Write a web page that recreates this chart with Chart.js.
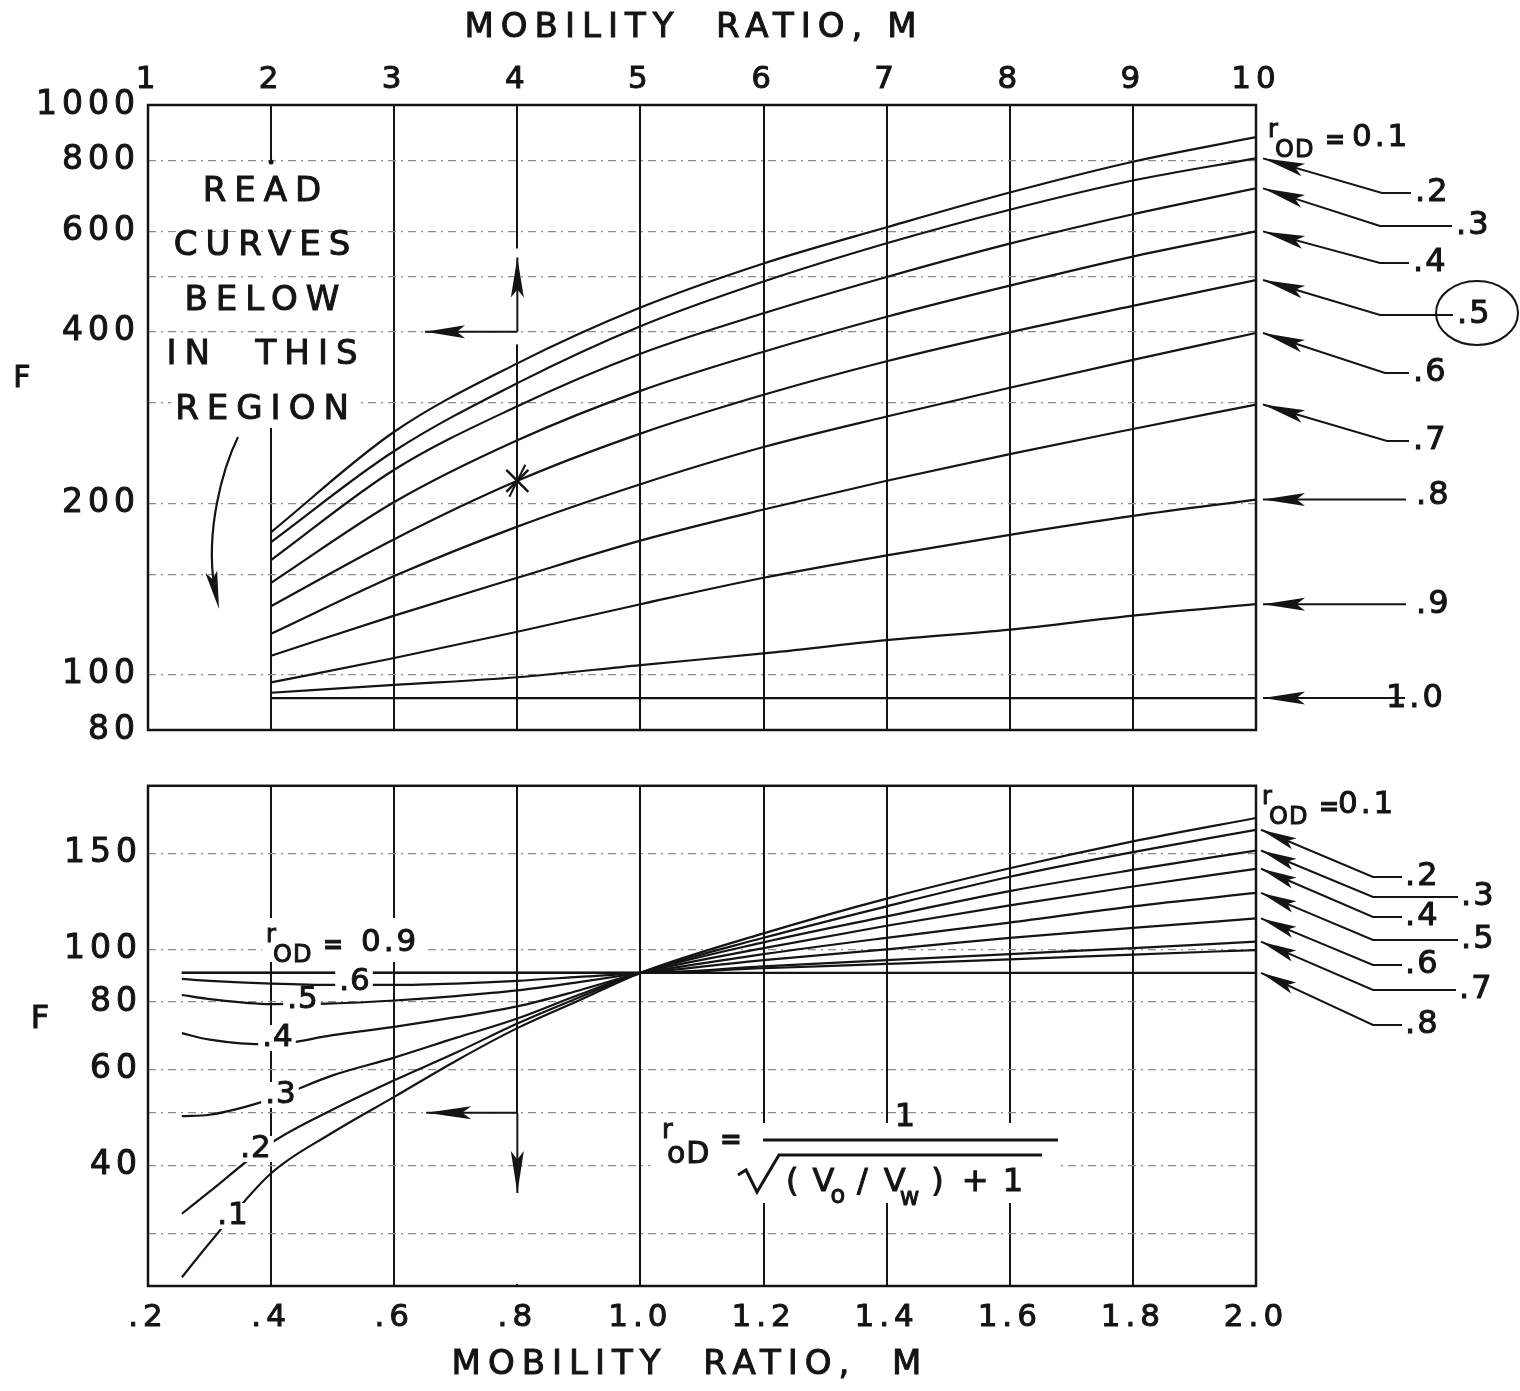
<!DOCTYPE html>
<html lang="en">
<head>
<meta charset="UTF-8">
<title>F versus mobility ratio</title>
<script src="https://cdn.jsdelivr.net/npm/chart.js"></script>
<style>
  body { margin: 0; background: #fff; }
  canvas { position: absolute; left: 0; }
  #upper { top: 0; }
  #lower { top: 760px; }
</style>
</head>
<body>
<canvas id="upper" width="1520" height="760"></canvas>
<canvas id="lower" width="1520" height="631"></canvas>
<script>
// r_OD of each curve
const rodValues = ['0.1', '0.2', '0.3', '0.4', '0.5', '0.6', '0.7', '0.8', '0.9', '1.0'];

// upper panel: mobility ratio 2..10, F
const upperM = [2, 3, 4, 5, 6, 7, 8, 9, 10];
const upper01 = [178, 267, 352, 441, 527, 610, 702, 795, 878];
const upper02 = [171, 247, 325, 409, 490, 572, 655, 737, 806];
const upper03 = [159, 229, 296, 366, 431, 499, 571, 643, 714];
const upper04 = [145, 201, 258, 315, 369, 425, 482, 542, 600];
const upper05 = [132, 173, 219, 265, 310, 355, 399, 444, 493];
const upper06 = [118, 149, 182, 216, 251, 284, 319, 357, 398];
const upper07 = [108, 127, 148, 172, 195, 219, 244, 270, 298];
const upper08 = [97, 107, 119, 133, 148, 162, 176, 190, 203];
const upper09 = [93, 96, 99, 104, 109, 115, 120, 127, 133];
const upper10 = [91, 91, 91, 91, 91, 91, 91, 91, 91];
const upperYTicks = [80, 100, 150, 200, 300, 400, 500, 600, 800, 1000];
const upperYLabels = [80, 100, 200, 400, 600, 800, 1000];

// lower panel: mobility ratio 0.25..2.0
const lowerM = [0.255, 0.3, 0.4, 0.5, 0.6, 0.7, 0.8, 0.9, 1.0, 1.2, 1.4, 1.6, 1.8, 2.0];
const lower01 = [24.9, 28.8, 38.7, 46, 53.5, 62.3, 71.6, 80.5, 90.5, 107, 124, 141, 158, 174.5];
const lower02 = [32.6, 35.8, 44, 50.7, 57.4, 64.5, 73, 81.5, 90.5, 105, 120, 136, 151, 166];
const lower03 = [49.3, 49.6, 53, 58.6, 63.2, 68.7, 74.6, 82.5, 90.5, 103, 115, 128, 140, 152];
const lower04 = [70.1, 68.2, 66.8, 69.5, 72, 75, 78.5, 84, 90.5, 100.5, 110.5, 120.5, 130.5, 140.7];
const lower05 = [82.4, 81, 79.3, 79.5, 80.5, 82, 84, 87, 90.5, 98, 105, 112, 120, 127];
const lower06 = [88.2, 87.5, 86.5, 86, 86, 86.5, 87.5, 89, 90.5, 95.5, 100, 105, 109.5, 114];
const lower07 = [90.5, 90.5, 90.5, 90.5, 90.5, 90.5, 90.5, 90.5, 90.5, 93, 95.5, 98, 100.5, 103.3];
const lower08 = [90.5, 90.5, 90.5, 90.5, 90.5, 90.5, 90.5, 90.5, 90.5, 92.3, 94, 95.8, 97.8, 99.7];
const lower09 = [90.5, 90.5, 90.5, 90.5, 90.5, 90.5, 90.5, 90.5, 90.5, 90.5, 90.5, 90.5, 90.5, 90.5];
const lowerXTicks = [0.2, 0.4, 0.6, 0.8, 1.0, 1.2, 1.4, 1.6, 1.8, 2.0];
const lowerXLabels = ['.2', '.4', '.6', '.8', '1.0', '1.2', '1.4', '1.6', '1.8', '2.0'];
const lowerYTicks = [30, 40, 50, 60, 80, 100, 150];
const lowerYLabels = [40, 60, 80, 100, 150];

const upperSeries = [upper01, upper02, upper03, upper04, upper05, upper06, upper07, upper08, upper09, upper10];
const lowerSeries = [lower01, lower02, lower03, lower04, lower05, lower06, lower07, lower08, lower09];

const INK = '#141414';
const FONT = '"DejaVu Sans", sans-serif';
Chart.defaults.font.family = FONT;
Chart.defaults.color = INK;

// ---- drawing helpers ----
function say(ctx, s, x, y, size, o = {}) {
  ctx.save();
  ctx.font = (o.weight || 'normal') + ' ' + size + 'px ' + FONT;
  ctx.letterSpacing = (o.sp == null ? 3 : o.sp) + 'px';
  ctx.textAlign = o.align || 'left';
  ctx.textBaseline = 'middle';
  if (o.bg) {
    const w = ctx.measureText(s).width;
    const x0 = o.align === 'center' ? x - w / 2 : o.align === 'right' ? x - w : x;
    ctx.fillStyle = '#fff';
    ctx.fillRect(x0 - 4, y - size * 0.42, w + 6, size * 0.84);
  }
  ctx.fillStyle = INK;
  ctx.fillText(s, x, y);
  // heavier pen, like the hand lettering
  ctx.strokeStyle = INK;
  ctx.lineWidth = o.pen == null ? 1 : o.pen;
  if (ctx.lineWidth > 0) ctx.strokeText(s, x, y);
  ctx.restore();
}

function poly(ctx, pts, width) {
  ctx.save();
  ctx.strokeStyle = INK;
  ctx.lineWidth = width || 2;
  ctx.beginPath();
  ctx.moveTo(pts[0][0], pts[0][1]);
  for (let i = 1; i < pts.length; i++) ctx.lineTo(pts[i][0], pts[i][1]);
  ctx.stroke();
  ctx.restore();
}

function head(ctx, x, y, ang, len, w) {
  ctx.save();
  ctx.fillStyle = INK;
  ctx.translate(x, y);
  ctx.rotate(ang);
  ctx.beginPath();
  ctx.moveTo(0, 0);
  ctx.lineTo(-len, -w / 2);
  ctx.lineTo(-len * 0.8, 0);
  ctx.lineTo(-len, w / 2);
  ctx.closePath();
  ctx.fill();
  ctx.restore();
}

// polyline whose last point is the arrow tip
function arrow(ctx, pts, len, w) {
  poly(ctx, pts, 2);
  const [tx, ty] = pts[pts.length - 1];
  const [px, py] = pts[pts.length - 2];
  head(ctx, tx, ty, Math.atan2(ty - py, tx - px), len, w);
}

function blank(ctx, x, y, w, h) {
  ctx.save();
  ctx.fillStyle = '#fff';
  ctx.fillRect(x, y, w, h);
  ctx.restore();
}

// "r" with subscript "OD", a bar and a value
function rod(ctx, x, y, value, vx) {
  say(ctx, 'r', x, y - 7, 24, { sp: 0 });
  say(ctx, 'OD', x + 7, y + 13, 24, { sp: 1 });
  say(ctx, '=', x + 57, y + 4, 24, { sp: 0, weight: 'bold' });
  say(ctx, value, x + vx, y, 31, { sp: 3 });
}

function frame(chart) {
  const a = chart.chartArea, ctx = chart.ctx;
  ctx.save();
  ctx.strokeStyle = INK;
  ctx.lineWidth = 2.5;
  ctx.strokeRect(a.left, a.top, a.right - a.left, a.bottom - a.top);
  ctx.restore();
}

function spacing(px) {
  const set = chart => { chart.ctx.letterSpacing = px + 'px'; };
  return { id: 'spacing', beforeLayout: set, beforeDraw: set };
}

function curves(xs, series) {
  return series.map((ys, i) => ({
    label: 'r_OD = ' + rodValues[i],
    data: xs.map((x, j) => ({ x: x, y: ys[j] })),
    borderColor: INK,
    borderWidth: 2.2,
    pointRadius: 0,
    fill: false,
    cubicInterpolationMode: 'monotone'
  }));
}

// ---- upper panel annotations ----
const upperDecor = {
  id: 'upperDecor',
  beforeDatasetsDraw(chart) {
    const ctx = chart.ctx, X = v => chart.scales.x.getPixelForValue(v), Y = v => chart.scales.y.getPixelForValue(v);
    // gaps in the M = 2 and M = 4 grid lines
    blank(ctx, X(2) - 3, 163, 6, 265);
    blank(ctx, X(4) - 3, Y(560), 6, Y(380) - Y(560));
    ['READ', 'CURVES', 'BELOW', 'IN  THIS', 'REGION'].forEach((s, i) =>
      say(ctx, s, 266, 192 + i * 54.5, 34, { align: 'center', sp: 8, bg: true }));
  },
  afterDatasetsDraw(chart) {
    const ctx = chart.ctx, a = chart.chartArea;
    const X = v => chart.scales.x.getPixelForValue(v), Y = v => chart.scales.y.getPixelForValue(v);
    frame(chart);
    ctx.save();
    ctx.fillStyle = INK;
    ctx.beginPath(); ctx.arc(X(2), 162, 2.5, 0, Math.PI * 2); ctx.fill();
    ctx.restore();

    // curved pointer towards the lower panel
    ctx.save();
    ctx.strokeStyle = INK; ctx.lineWidth = 2.2;
    ctx.beginPath(); ctx.moveTo(238, 437); ctx.bezierCurveTo(222, 470, 206, 530, 214, 585); ctx.stroke();
    ctx.restore();
    head(ctx, 219, 609, Math.atan2(24, 5), 38, 12);

    // worked example at M = 4
    const sx = X(4), sy = Y(219);
    poly(ctx, [[sx - 11, sy - 11], [sx + 11, sy + 11]], 2.5);
    poly(ctx, [[sx - 11, sy + 11], [sx + 11, sy - 11]], 2.5);
    poly(ctx, [[sx - 8, sy + 16], [sx + 8, sy - 16]], 2);
    arrow(ctx, [[X(4), Y(400)], [X(4), Y(540)]], 40, 13);
    arrow(ctx, [[X(4), Y(400)], [X(3.25), Y(400)]], 40, 13);

    // curve tags on the right
    const tip = i => [a.right + 7, Y(upperSeries[i][upperSeries[i].length - 1])];
    rod(ctx, 1268, 138, '0.1', 84);
    const tags = [
      ['.2', 1415, 193, 1382], ['.3', 1456, 226, 1380], ['.4', 1413, 263, 1380],
      ['.5', 1457, 315, 1380], ['.6', 1413, 373, 1385], ['.7', 1413, 441, 1387]
    ];
    tags.forEach(([s, tx, ty, ex], k) => {
      arrow(ctx, [[tx - 4, ty], [ex, ty], tip(k + 1)], 42, 13);
      say(ctx, s, tx, ty, 32, { sp: 2 });
    });
    [['.8', 1416, 496, 7], ['.9', 1416, 605, 8]].forEach(([s, tx, ty, i]) => {
      const t = tip(i);
      arrow(ctx, [[tx - 10, t[1]], t], 42, 13);
      say(ctx, s, tx, ty, 32, { sp: 2 });
    });
    const t10 = tip(9);
    arrow(ctx, [[1405, t10[1]], t10], 42, 13);
    say(ctx, '1.0', 1386, 699, 32, { sp: 3 });
    ctx.save();
    ctx.strokeStyle = INK; ctx.lineWidth = 2;
    ctx.beginPath(); ctx.ellipse(1477, 313, 41, 32, 0, 0, Math.PI * 2); ctx.stroke();
    ctx.restore();
  },
  afterDraw(chart) {
    const ctx = chart.ctx;
    say(ctx, 'MOBILITY  RATIO, M', 694, 28, 34, { align: 'center', sp: 7 });
    say(ctx, 'F', 22, 379, 30, { align: 'center', sp: 0 });
  }
};

// ---- lower panel annotations (page coordinates, canvas starts at 760) ----
const OFF = 760;
const lowerDecor = {
  id: 'lowerDecor',
  beforeDatasetsDraw(chart) {
    const ctx = chart.ctx, a = chart.chartArea;
    const X = v => chart.scales.x.getPixelForValue(v), Y = v => chart.scales.y.getPixelForValue(v) + OFF;
    ctx.save();
    ctx.translate(0, -OFF);
    blank(ctx, X(0.8) - 3, Y(50), 6, a.bottom + OFF - Y(50) - 2);
    blank(ctx, 650, 1123, 410, 80);
    // r_oD = 1 / sqrt((Vo/Vw) + 1)
    say(ctx, 'r', 662, 1131, 26, { sp: 0 });
    say(ctx, 'oD', 667, 1155, 30, { sp: 1 });
    say(ctx, '=', 720, 1141, 26, { sp: 0, weight: 'bold' });
    say(ctx, '1', 905, 1118, 32, { align: 'center', sp: 0 });
    poly(ctx, [[763, 1140], [1058, 1140]], 3);
    poly(ctx, [[738, 1175], [746, 1170], [757, 1192], [779, 1155], [1042, 1155]], 3);
    const parts = [['(', 32, 0, 14], ['V', 32, 0, -4], ['o', 24, 14, 12], ['/', 32, 0, 16],
                   ['V', 32, 0, -6], ['w', 24, 16, 12], [')', 32, 0, 18], ['+', 32, 0, 14], ['1', 32, 0, 0]];
    let x = 786;
    parts.forEach(([s, size, dy, gap]) => {
      ctx.font = size + 'px ' + FONT;
      ctx.letterSpacing = '0px';
      const w = ctx.measureText(s).width;
      say(ctx, s, x, 1183 + dy, size, { sp: 0 });
      x += w + gap;
    });
    ctx.restore();
  },
  afterDatasetsDraw(chart) {
    const ctx = chart.ctx, a = chart.chartArea;
    const X = v => chart.scales.x.getPixelForValue(v), Y = v => chart.scales.y.getPixelForValue(v) + OFF;
    ctx.save();
    ctx.translate(0, -OFF);
    // tags written into the curves on the left
    blank(ctx, 262, 918, 166, 44);
    rod(ctx, 266, 943, '0.9', 95);
    [['.6', 355, 982], ['.5', 303, 1000], ['.4', 278, 1038], ['.3', 281, 1095], ['.2', 256, 1149], ['.1', 233, 1216]]
      .forEach(([s, tx, ty]) => say(ctx, s, tx, ty, 31, { align: 'center', sp: 1, bg: true }));

    arrow(ctx, [[X(0.8), Y(50)], [X(0.652), Y(50)]], 45, 13);
    arrow(ctx, [[X(0.8), Y(50)], [X(0.8), Y(35.6)]], 42, 13);

    // tags on the right
    const tip = i => [a.right + 5, Y(lowerSeries[i][lowerSeries[i].length - 1])];
    rod(ctx, 1262, 805, '0.1', 76);
    const tags = [
      ['.2', 1405, 877, 1], ['.3', 1461, 897, 2], ['.4', 1405, 917, 3], ['.5', 1461, 940, 4],
      ['.6', 1405, 965, 5], ['.7', 1459, 990, 6], ['.8', 1405, 1025, 8]
    ];
    tags.forEach(([s, tx, ty, i]) => {
      arrow(ctx, [[tx - 3, ty], [1373, ty], tip(i)], 36, 12);
      say(ctx, s, tx, ty, 32, { sp: 2 });
    });
    ctx.restore();
    frame(chart);
  },
  afterDraw(chart) {
    const ctx = chart.ctx;
    ctx.save();
    ctx.translate(0, -OFF);
    say(ctx, 'MOBILITY  RATIO,  M', 690, 1365, 34, { align: 'center', sp: 7 });
    say(ctx, 'F', 40, 1020, 32, { align: 'center', sp: 0 });
    ctx.restore();
  }
};

const yGrid = { color: '#8c8c8c', lineWidth: 1.2, drawTicks: false };
const xGrid = { color: INK, lineWidth: 2, drawTicks: false };
const tickPen = { textStrokeColor: INK, textStrokeWidth: 1 };

new Chart(document.getElementById('upper'), {
  type: 'line',
  data: { datasets: curves(upperM, upperSeries) },
  options: {
    responsive: false,
    devicePixelRatio: 1,
    animation: false,
    events: [],
    layout: { padding: { left: 0, right: 264, top: 0, bottom: 30 } },
    plugins: { legend: { display: false }, tooltip: { enabled: false } },
    scales: {
      x: {
        type: 'linear', position: 'top', min: 1, max: 10,
        afterFit: s => { s.height = 105; },
        grid: xGrid,
        border: { display: false },
        ticks: Object.assign({ stepSize: 1, autoSkip: false, maxRotation: 0, padding: 6, font: { size: 31 }, color: INK }, tickPen)
      },
      y: {
        type: 'logarithmic', min: 80, max: 1000,
        afterBuildTicks: s => { s.ticks = upperYTicks.map(v => ({ value: v })); },
        afterFit: s => { s.width = 148; },
        grid: yGrid,
        border: { display: false, dash: [8, 5, 2, 5] },
        ticks: Object.assign({ autoSkip: false, padding: 8, font: { size: 33 }, color: INK,
                 callback: v => upperYLabels.includes(v) ? String(v) : '' }, tickPen)
      }
    }
  },
  plugins: [spacing(5), upperDecor]
});

new Chart(document.getElementById('lower'), {
  type: 'line',
  data: { datasets: curves(lowerM, lowerSeries) },
  options: {
    responsive: false,
    devicePixelRatio: 1,
    animation: false,
    events: [],
    layout: { padding: { left: 0, right: 264, top: 15, bottom: 0 } },
    plugins: { legend: { display: false }, tooltip: { enabled: false } },
    scales: {
      x: {
        type: 'linear', position: 'bottom', min: 0.2, max: 2.0,
        afterBuildTicks: s => { s.ticks = lowerXTicks.map(v => ({ value: v })); },
        afterFit: s => { s.height = 105; },
        grid: xGrid,
        border: { display: false },
        ticks: Object.assign({ autoSkip: false, maxRotation: 0, padding: 13, font: { size: 31 }, color: INK,
                 callback: (v, i) => lowerXLabels[i] }, tickPen)
      },
      y: {
        type: 'logarithmic', min: 24, max: 200,
        afterBuildTicks: s => { s.ticks = lowerYTicks.map(v => ({ value: v })); },
        afterFit: s => { s.width = 148; },
        grid: yGrid,
        border: { display: false, dash: [8, 5, 2, 5] },
        ticks: Object.assign({ autoSkip: false, padding: 6, font: { size: 33 }, color: INK,
                 callback: v => lowerYLabels.includes(v) ? String(v) : '' }, tickPen)
      }
    }
  },
  plugins: [spacing(5), lowerDecor]
});
</script>
</body>
</html>
